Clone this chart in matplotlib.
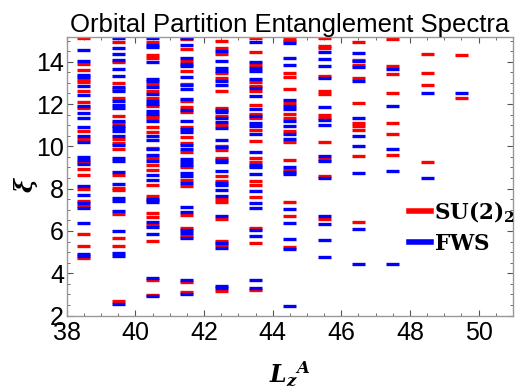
import numpy as np
import matplotlib
matplotlib.use('Agg')
import matplotlib.pyplot as plt
from matplotlib.lines import Line2D
from matplotlib.ticker import MultipleLocator

plt.rcParams['font.family'] = ['Liberation Sans', 'DejaVu Sans']
plt.rcParams['mathtext.fontset'] = 'custom'
plt.rcParams['mathtext.it'] = 'DejaVu Serif:italic:bold'
plt.rcParams['mathtext.rm'] = 'DejaVu Serif:bold'
plt.rcParams['mathtext.bf'] = 'DejaVu Serif:bold'

# L_z^A columns (bars are drawn centred on these)
lz = [38.5, 39.5, 40.5, 41.5, 42.5, 43.5, 44.5, 45.5, 46.5, 47.5, 48.5, 49.5]

# entanglement levels xi, SU(2)_2 (red)
su2 = [
    [15.1, 13.87, 13.59, 13.15, 13.05, 12.6, 12.09, 11.81, 10.71, 10.33, 9.26, 8.91, 8.63,
     7.97, 7.42, 7.19, 5.84, 5.27, 4.72],
    [14.91, 13.98, 12.98, 12.72, 12.27, 11.42, 11.09, 10.33, 10.16, 9.86, 8.63, 8.05, 7.92,
     6.78, 5.65, 5.27, 2.69],
    [14.95, 14.32, 14.19, 12.93, 12.61, 12.27, 11.9, 11.45, 11.32, 10.9, 10.66, 9.94, 9.43,
     9.1, 8.86, 8.16, 7.63, 7.45, 6.83, 6.67, 6.3, 5.53, 3.68, 2.97],
    [15.07, 14.58, 14.03, 13.54, 12.96, 12.14, 11.86, 11.62, 10.93, 10.42, 10.16, 9.75, 9.01,
     8.41, 8.11, 6.74, 6.14, 5.78, 3.59, 3.1],
    [14.96, 14.63, 14.38, 13.46, 13.21, 12.6, 11.83, 11.43, 10.99, 10.03, 9.84, 9.45, 8.58,
     8.36, 7.51, 7.35, 6.58, 5.52, 5.36, 3.16],
    [15.13, 14.46, 13.84, 13.05, 12.87, 12.63, 11.94, 11.53, 11.34, 10.77, 10.23, 9.43, 9.24,
     8.34, 8.16, 7.59, 6.15, 5.42, 3.22],
    [15.07, 14.99, 13.45, 13.26, 12.69, 12.06, 11.51, 11.34, 10.71, 10.19, 9.34, 8.9, 7.35,
     6.69, 5.24],
    [15.1, 14.72, 14.63, 13.34, 12.63, 12.49, 11.46, 11.35, 10.19, 9.42, 8.6, 6.56],
    [14.91, 14.1, 13.83, 13.21, 12.03, 11.09, 10.95, 10.76, 9.53, 6.41],
    [15.07, 13.8, 13.4, 12.5, 11.09, 10.57, 9.57],
    [14.35, 13.45, 12.88, 9.24],
    [14.3, 12.27],
]

# entanglement levels xi, FWS (blue)
fws = [
    [14.54, 14.05, 13.39, 13.27, 12.83, 12.41, 11.9, 11.56, 11.32, 10.9, 10.47, 10.19, 9.49,
     9.37, 9.15, 8.11, 7.69, 7.3, 7.07, 6.36, 4.93, 4.8],
    [15.1, 14.63, 14.35, 14.06, 13.64, 13.31, 12.82, 12.6, 12.14, 11.95, 11.83, 11.18, 10.98,
     10.88, 10.71, 10.47, 10.05, 9.43, 9.29, 8.79, 8.2, 7.56, 7.43, 6.93, 5.98, 4.94, 4.83, 2.56],
    [15.13, 14.8, 14.71, 13.97, 13.2, 13.07, 12.8, 12.49, 12.14, 12.01, 11.65, 11.54, 11.2,
     10.47, 10.28, 9.86, 9.57, 9.29, 8.63, 8.39, 7.52, 7.37, 6.44, 6.17, 5.84, 3.76, 2.91],
    [15.13, 14.77, 14.16, 13.91, 13.78, 13.26, 12.88, 12.69, 12.22, 11.7, 11.18, 10.82, 10.69,
     10.05, 9.86, 9.4, 9.24, 9.12, 8.72, 8.6, 8.25, 7.12, 6.88, 6.04, 5.92, 5.67, 3.67, 3.0],
    [14.5, 14.02, 13.68, 13.56, 13.09, 12.88, 11.72, 11.62, 11.34, 11.13, 10.85, 10.28, 9.95,
     9.34, 9.24, 8.82, 8.28, 8.19, 7.92, 7.64, 6.71, 5.45, 5.2, 3.41, 3.29],
    [14.91, 13.97, 13.72, 13.54, 13.16, 12.76, 12.36, 11.76, 11.45, 11.1, 10.96, 10.57, 9.71,
     9.12, 9.01, 8.68, 7.87, 7.3, 7.07, 6.04, 5.75, 3.67, 3.3],
    [14.87, 14.16, 13.83, 12.19, 11.89, 11.78, 11.18, 10.94, 10.57, 10.33, 9.01, 8.79, 8.68,
     7.02, 6.36, 5.6, 5.13, 2.44],
    [14.44, 14.11, 13.78, 13.21, 11.84, 11.23, 10.99, 9.53, 9.29, 8.49, 6.69, 6.31, 5.56, 4.75],
    [14.4, 14.02, 13.73, 13.07, 11.32, 10.47, 10.0, 8.72, 6.08, 4.42],
    [13.65, 11.89, 9.86, 8.82, 4.42],
    [12.5, 8.49],
    [12.5],
]

red = '#ff0000'
blue = '#0000ff'
half = 0.19   # half width of a level bar
lw = 2.4

fig = plt.figure(figsize=(5.18, 3.87), dpi=100)
ax = fig.add_axes([0.129, 0.1845, 0.861, 0.7195])

for x, levels in zip(lz, su2):
    ax.hlines(levels, x - half, x + half, color=red, lw=lw)
for x, levels in zip(lz, fws):
    ax.hlines(levels, x - half, x + half, color=blue, lw=lw)

ax.set_xlim(38, 51)
ax.set_ylim(2, 15.16)
ax.xaxis.set_major_locator(MultipleLocator(2))
ax.xaxis.set_minor_locator(MultipleLocator(0.5))
ax.yaxis.set_major_locator(MultipleLocator(2))
ax.yaxis.set_minor_locator(MultipleLocator(0.5))
ax.tick_params(which='both', direction='in', top=True, right=True, colors='#555555',
               labelcolor='black', labelsize=18)
ax.tick_params(axis='x', pad=4)
ax.tick_params(axis='y', pad=2)
ax.tick_params(which='major', length=4, width=0.8)
ax.tick_params(which='minor', length=2.5, width=0.6)
for s in ax.spines.values():
    s.set_color('#999999')
    s.set_linewidth(1.0)

ax.set_title('Orbital Partition Entanglement Spectra', fontsize=18.5, pad=3)
ax.set_xlabel(r'$L_z{}^A$', fontsize=17, labelpad=10)
ax.set_ylabel('ξ', family='DejaVu Serif', weight='bold', style='italic', fontsize=17)
ax.yaxis.set_label_coords(-0.065, 0.47)

handles = [Line2D([], [], color=red, lw=4), Line2D([], [], color=blue, lw=4)]
ax.legend(handles, [r'$\mathrm{SU(2)}_2$', r'$\mathrm{FWS}$'], loc='center left',
          bbox_to_anchor=(0.768, 0.318), frameon=False, fontsize=15.5, handlelength=1.0,
          handletextpad=0.15, labelspacing=0.42, borderpad=0, borderaxespad=0)

plt.savefig('out.png', dpi=100)
